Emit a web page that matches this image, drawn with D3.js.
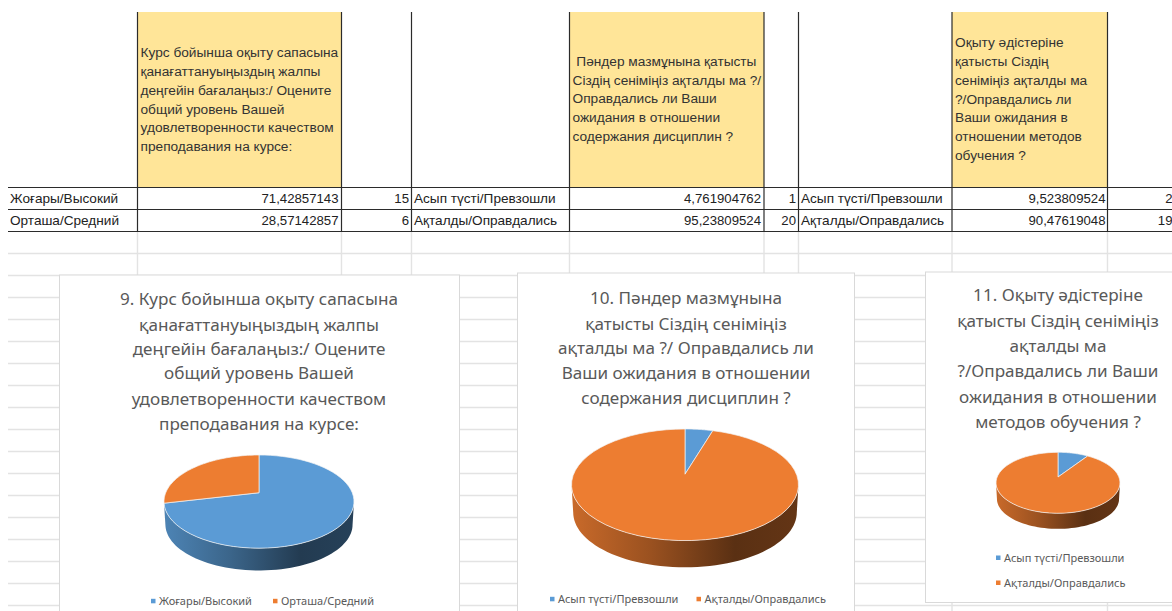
<!DOCTYPE html>
<html>
<head>
<meta charset="utf-8">
<script src="https://cdn.jsdelivr.net/npm/d3@7"></script>
<style>
  html, body { margin: 0; background: #fff; }
  svg { display: block; }
  .cell { font-family: "Liberation Sans", Arial, sans-serif; font-size: 13.6px; fill: #222; }
  .num { font-size: 13.2px; }
  .head { font-family: "Liberation Sans", Arial, sans-serif; font-size: 13.7px; fill: #333; }
  .title { font-family: "Noto Sans", sans-serif; font-size: 17.1px; fill: #595959; text-anchor: middle; }
  .legend { font-family: "Noto Sans", sans-serif; font-size: 11px; fill: #595959; }
</style>
</head>
<body>
<svg width="1172" height="611"></svg>
<script>
const levelLabels = ["Жоғары/Высокий", "Орташа/Средний"];
const resultLabels = ["Асып түсті/Превзошли", "Ақталды/Оправдались"];

const percents9 = [71.42857143, 28.57142857];
const percents10 = [4.761904762, 95.23809524];
const percents11 = [9.523809524, 90.47619048];

const percentText9 = ["71,42857143", "28,57142857"];
const percentText10 = ["4,761904762", "95,23809524"];
const percentText11 = ["9,523809524", "90,47619048"];

const counts9 = ["15", "6"];
const counts10 = ["1", "20"];
const counts11 = ["2", "19"];

const header9 = ["Курс бойынша оқыту сапасына", "қанағаттануыңыздың жалпы", "деңгейін бағалаңыз:/ Оцените", "общий уровень Вашей", "удовлетворенности качеством", "преподавания на курсе:"];
const header10 = [" Пәндер мазмұнына қатысты", "Сіздің сеніміңіз ақталды ма ?/", "Оправдались ли Ваши", "ожидания в отношении", "содержания дисциплин ?"];
const header11 = ["Оқыту әдістеріне", "қатысты Сіздің", "сеніміңіз ақталды ма", "?/Оправдались ли", "Ваши ожидания в", "отношении методов", "обучения ?"];

const title9 = ["9. Курс бойынша оқыту сапасына", "қанағаттануыңыздың жалпы", "деңгейін бағалаңыз:/ Оцените", "общий уровень Вашей", "удовлетворенности качеством", "преподавания на курсе:"];
const title10 = ["10. Пәндер мазмұнына", "қатысты Сіздің сеніміңіз", "ақталды ма ?/ Оправдались ли", "Ваши ожидания в отношении", "содержания дисциплин ?"];
const title11 = ["11. Оқыту әдістеріне", "қатысты Сіздің сеніміңіз", "ақталды ма", "?/Оправдались ли Ваши", "ожидания в отношении", "методов обучения ?"];

const svg = d3.select("svg");
const width = +svg.attr("width");
const height = +svg.attr("height");

const blue = "#5B9BD5";
const orange = "#ED7D31";
const color = d3.scaleOrdinal().domain([0, 1]).range([blue, orange]);

// ---- sheet grid ----
const columnX = [137.5, 341.5, 411.5, 569.5, 764, 798.5, 952, 1107.5];
const rowY = [187.5, 209.5, 231.5];

const grid = svg.append("g").attr("stroke", "#e3e3e3").attr("stroke-width", 1.4);
grid.selectAll(".h")
  .data(d3.range(1, 18).map(k => rowY[2] + 22 * k))
  .join("line")
  .attr("x1", 8).attr("x2", width).attr("y1", d => d).attr("y2", d => d);
grid.selectAll(".v")
  .data(columnX)
  .join("line")
  .attr("x1", d => d).attr("x2", d => d).attr("y1", rowY[2]).attr("y2", height);

// ---- yellow header cells ----
const headerCols = [
  { x0: columnX[0], x1: columnX[1], lines: header9, firstY: 52.5 },
  { x0: columnX[3], x1: columnX[4], lines: header10, firstY: 61 },
  { x0: columnX[6], x1: columnX[7], lines: header11, firstY: 42.5 }
];
const headerTop = 12;

svg.append("g").selectAll("rect")
  .data(headerCols)
  .join("rect")
  .attr("x", d => d.x0).attr("y", headerTop)
  .attr("width", d => d.x1 - d.x0).attr("height", rowY[0] - headerTop)
  .attr("fill", "#FFE598");

headerCols.forEach(col => {
  svg.append("text")
    .attr("class", "head")
    .attr("xml:space", "preserve")
    .style("white-space", "pre")
    .selectAll("tspan")
    .data(col.lines)
    .join("tspan")
    .attr("x", col.x0 + 3)
    .attr("y", (d, i) => col.firstY + i * 18.8)
    .attr("dy", "0.35em")
    .text(d => d);
});

// table rules
const rules = svg.append("g").attr("stroke", "#2b2b2b").attr("stroke-width", 1.2);
rules.selectAll(".r")
  .data(rowY)
  .join("line")
  .attr("x1", 8).attr("x2", width).attr("y1", d => d).attr("y2", d => d);
rules.selectAll(".c")
  .data(columnX)
  .join("line")
  .attr("x1", d => d).attr("x2", d => d).attr("y1", headerTop).attr("y2", rowY[2]);

// ---- table cells ----
const rowCenter = i => (rowY[i] + rowY[i + 1]) / 2;
const cell = (x, i, txt, anchor) => svg.append("text")
  .attr("class", anchor === "end" ? "cell num" : "cell")
  .attr("x", x).attr("y", rowCenter(i)).attr("dy", "0.36em")
  .attr("text-anchor", anchor)
  .text(txt);

[0, 1].forEach(i => {
  cell(10, i, levelLabels[i], "start");
  cell(columnX[1] - 3, i, percentText9[i], "end");
  cell(columnX[2] - 2.5, i, counts9[i], "end");
  cell(columnX[2] + 2.5, i, resultLabels[i], "start");
  cell(columnX[4] - 3, i, percentText10[i], "end");
  cell(columnX[5] - 2.5, i, counts10[i], "end");
  cell(columnX[5] + 2.5, i, resultLabels[i], "start");
  cell(columnX[7] - 2, i, percentText11[i], "end");
  cell(width + 0.5, i, counts11[i], "end");
});

// ---- chart cards ----
const panels = [
  {
    box: [59.5, 275, 400, 345], title: title9, titleX: 259, titleY: [299, 325, 349, 373, 399, 424],
    values: percents9, labels: levelLabels,
    cx: 259, midY: 501.6, rx: 95, ry: 46.6, depth: 23,
    legend: [[151, 601], [273, 601]]
  },
  {
    box: [517.5, 273, 337, 345], title: title10, titleX: 686, titleY: [298, 324, 348, 373, 398],
    values: percents10, labels: resultLabels,
    cx: 685, midY: 484.8, rx: 113.5, ry: 55.8, depth: 27.6,
    legend: [[550, 599], [696.5, 599]]
  },
  {
    box: [925.5, 272, 260, 330.5], title: title11, titleX: 1058, titleY: [295, 321, 346, 371, 397, 422],
    values: percents11, labels: resultLabels,
    cx: 1058, midY: 482.8, rx: 62, ry: 30.5, depth: 16,
    legend: [[996, 557.7], [996, 582.7]]
  }
];

const tilt = -0.19; // how far the pie centre sits above the ellipse centre
const pie = d3.pie().sort(null).value(d => d);
const defs = svg.append("defs");
const sideShade = [[0, 0.85], [0.35, 0.65], [0.72, 0.38], [1, 0.42]];

const shade = (c, f) => {
  const r = d3.rgb(c);
  return d3.rgb(r.r * f, r.g * f, r.b * f).formatHex();
};

panels.forEach((p, n) => {
  const g = svg.append("g");

  g.append("rect")
    .attr("x", p.box[0]).attr("y", p.box[1])
    .attr("width", p.box[2]).attr("height", p.box[3])
    .attr("fill", "#fff").attr("stroke", "#d9d9d9");

  g.append("text").attr("class", "title")
    .selectAll("tspan")
    .data(p.title)
    .join("tspan")
    .attr("x", p.titleX)
    .attr("y", (d, i) => p.titleY[i])
    .attr("dy", "0.35em")
    .text(d => d);

  // disc to ellipse with a bit of perspective
  const project = (a, r = 1, drop = 0, squeeze = 1) => {
    const u = r * Math.sin(a);
    const v = -r * Math.cos(a);
    const w = 1 + tilt * v;
    return [
      p.cx + squeeze * p.rx * u * Math.sqrt(1 - tilt * tilt) / w,
      p.midY + drop + squeeze * p.ry * (v + tilt) / w
    ];
  };
  const line = d3.line();
  const sweep = (a0, a1) => d3.range(0, 61).map(i => a0 + (a1 - a0) * i / 60);

  const slices = pie(p.values);

  // front wall, only the part facing the viewer
  const frontStart = Math.acos(tilt);
  const frontEnd = 2 * Math.PI - frontStart;

  slices.forEach((s, i) => {
    const a0 = Math.max(s.startAngle, frontStart);
    const a1 = Math.min(s.endAngle, frontEnd);
    if (a1 <= a0) return;
    const id = `side-${n}-${i}`;
    defs.append("linearGradient")
      .attr("id", id)
      .attr("gradientUnits", "userSpaceOnUse")
      .attr("x1", p.cx - p.rx).attr("x2", p.cx + p.rx)
      .attr("y1", 0).attr("y2", 0)
      .selectAll("stop")
      .data(sideShade)
      .join("stop")
      .attr("offset", d => d[0])
      .attr("stop-color", d => shade(color(i), d[1]));

    const pts = sweep(a0, a1).map(a => project(a))
      .concat(sweep(a1, a0).map(a => project(a, 1, p.depth, 0.985)));
    g.append("path")
      .attr("d", line(pts) + "Z")
      .attr("fill", `url(#${id})`);
  });

  // top face
  slices.forEach((s, i) => {
    const pts = [project(0, 0)].concat(sweep(s.startAngle, s.endAngle).map(a => project(a)));
    g.append("path")
      .attr("d", line(pts) + "Z")
      .attr("fill", color(i))
      .attr("stroke", "#f4f4f4")
      .attr("stroke-width", 0.7)
      .attr("stroke-linejoin", "round");
  });

  // legend
  p.labels.forEach((label, i) => {
    const [lx, ly] = p.legend[i];
    g.append("rect")
      .attr("x", lx).attr("y", ly - 2.2)
      .attr("width", 4.5).attr("height", 4.5)
      .attr("fill", color(i));
    g.append("text")
      .attr("class", "legend")
      .attr("x", lx + 8).attr("y", ly).attr("dy", "0.35em")
      .text(label);
  });
});
</script>
</body>
</html>
